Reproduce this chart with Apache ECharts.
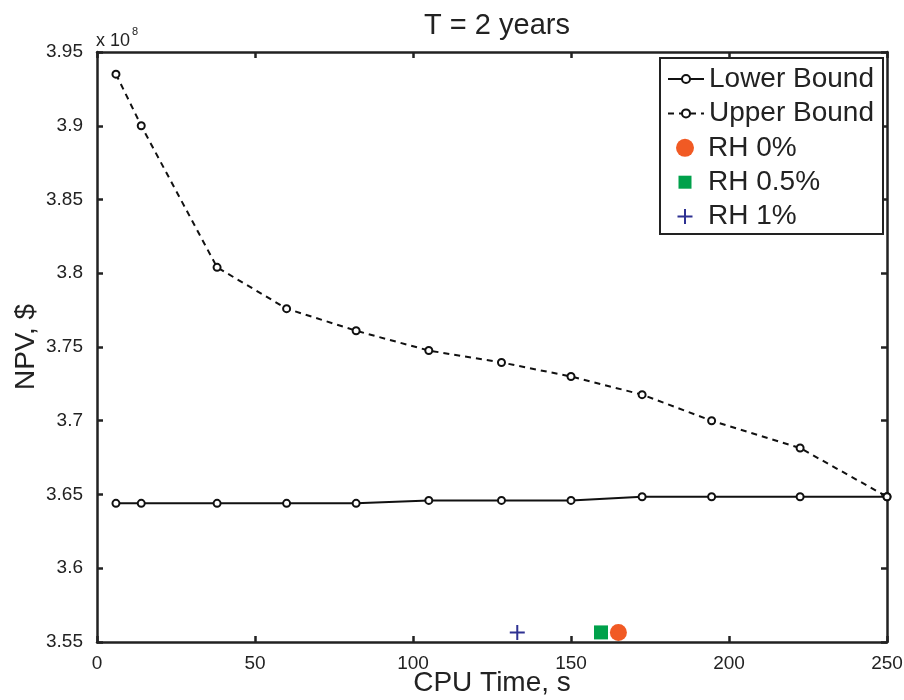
<!DOCTYPE html>
<html>
<head>
<meta charset="utf-8">
<script src="https://cdn.jsdelivr.net/npm/echarts@6/dist/echarts.min.js"></script>
<style>
  html, body { margin: 0; padding: 0; background: #fff; }
  #chart { width: 904px; height: 700px; }
</style>
</head>
<body>
<div id="chart"></div>
<script>
// CPU time (s) and NPV values (in units of 1e8 $)
const cpuTime = [6, 14, 38, 60, 82, 105, 128, 150, 172.5, 194.5, 222.5, 250];
const lowerBound = [3.644, 3.644, 3.644, 3.644, 3.644, 3.646, 3.646, 3.646, 3.6485, 3.6485, 3.6485, 3.6485];
const upperBound = [3.935, 3.900, 3.804, 3.776, 3.761, 3.7476, 3.7395, 3.730, 3.7177, 3.700, 3.6815, 3.6485];
const rh0 = [[165, 3.5565]];
const rh05 = [[159.5, 3.5565]];
const rh1 = [[133, 3.5565]];
const xTicks = { min: 0, max: 250, interval: 50 };
const yTicks = { min: 3.55, max: 3.95, interval: 0.05 };

const font = 'Liberation Sans, Arial, sans-serif';
const ink = '#222';
const plusPath = 'path://M6.5,0H8.5V6.5H15V8.5H8.5V15H6.5V8.5H0V6.5H6.5Z';
// legend icons padded inside an 18x18 box (the lone moves set the box)
const squareIcon = 'path://M0,0M18,18M2.5,2.5H15.5V15.5H2.5Z';
const plusIcon = 'path://M0,0M18,18M8,1.5H10V8H16.5V10H10V16.5H8V10H1.5V8H8Z';

const chart = echarts.init(document.getElementById('chart'));

function pairs(xs, ys) { return xs.map((x, i) => [x, ys[i]]); }

const axisCommon = {
  axisLine: { show: true, onZero: false, lineStyle: { color: ink, width: 2.5 } },
  axisTick: { show: true, inside: true, length: 6, lineStyle: { color: ink, width: 2.5 } },
  splitLine: { show: false }
};

const legendText = { fontFamily: font, fontSize: 28, lineHeight: 28, color: ink };

chart.setOption({
  backgroundColor: '#fff',
  animation: false,
  title: {
    text: 'T = 2 years',
    left: 492, top: 6, textAlign: 'center',
    textStyle: { fontFamily: font, fontSize: 29, fontWeight: 'normal', color: ink }
  },
  grid: { left: 97, top: 52, right: 17, bottom: 58, outerBoundsMode: 'none' },
  xAxis: [
    Object.assign({
      type: 'value', min: xTicks.min, max: xTicks.max, interval: xTicks.interval,
      name: 'CPU Time, s', nameLocation: 'middle', nameGap: 27, nameMoveOverlap: false,
      nameTextStyle: { fontFamily: font, fontSize: 28, color: ink },
      axisLabel: { fontFamily: font, fontSize: 19, color: ink, margin: 12 }
    }, axisCommon),
    Object.assign({
      type: 'value', position: 'top', min: xTicks.min, max: xTicks.max, interval: xTicks.interval,
      axisLabel: { show: false }
    }, axisCommon)
  ],
  yAxis: [
    Object.assign({
      type: 'value', min: yTicks.min, max: yTicks.max, interval: yTicks.interval,
      name: 'NPV, $', nameLocation: 'middle', nameGap: 57, nameMoveOverlap: false,
      nameTextStyle: { fontFamily: font, fontSize: 28, color: ink },
      axisLabel: {
        fontFamily: font, fontSize: 19, color: ink, margin: 14,
        formatter: v => String(+v.toFixed(2))
      }
    }, axisCommon),
    Object.assign({
      type: 'value', position: 'right', min: yTicks.min, max: yTicks.max, interval: yTicks.interval,
      axisLabel: { show: false }
    }, axisCommon)
  ],
  graphic: [
    { type: 'text', left: 96, top: 32, style: { text: 'x 10', fontFamily: font, fontSize: 18, fill: ink } },
    { type: 'text', left: 132, top: 26, style: { text: '8', fontFamily: font, fontSize: 11, fill: ink } },
    {
      type: 'rect', z: 3,
      shape: { x: 660, y: 58, width: 223, height: 176 },
      style: { fill: '#fff', stroke: ink, lineWidth: 2 }
    }
  ],
  legend: [
    {
      orient: 'vertical', left: 667, top: 65, padding: 0,
      itemGap: 6.4, itemWidth: 36, itemHeight: 10,
      textStyle: legendText,
      data: ['Lower Bound', 'Upper Bound']
    },
    {
      orient: 'vertical', left: 676, top: 133.8, padding: 0,
      itemGap: 6.4, itemWidth: 18, itemHeight: 18,
      textStyle: Object.assign({ padding: [0, 0, 0, 9] }, legendText),
      data: [
        { name: 'RH 0%', icon: 'circle' },
        { name: 'RH 0.5%', icon: squareIcon },
        { name: 'RH 1%', icon: plusIcon }
      ]
    }
  ],
  series: [
    {
      name: 'Lower Bound', type: 'line', data: pairs(cpuTime, lowerBound),
      symbol: 'emptyCircle', symbolSize: 7,
      lineStyle: { color: '#111', width: 2 },
      itemStyle: { color: '#111', borderWidth: 2 }
    },
    {
      name: 'Upper Bound', type: 'line', data: pairs(cpuTime, upperBound),
      symbol: 'emptyCircle', symbolSize: 7,
      lineStyle: { color: '#111', width: 2, type: [6, 5] },
      itemStyle: { color: '#111', borderWidth: 2 }
    },
    {
      name: 'RH 0%', type: 'scatter', data: rh0, symbol: 'circle', symbolSize: 17,
      itemStyle: { color: '#f15a24', opacity: 1 }, z: 5
    },
    {
      name: 'RH 0.5%', type: 'scatter', data: rh05, symbol: 'rect', symbolSize: 14,
      itemStyle: { color: '#00a14b', opacity: 1 }, z: 5
    },
    {
      name: 'RH 1%', type: 'scatter', data: rh1, symbol: plusPath, symbolSize: 15,
      itemStyle: { color: '#2e3192', opacity: 1 }, z: 5
    }
  ]
});
</script>
</body>
</html>
